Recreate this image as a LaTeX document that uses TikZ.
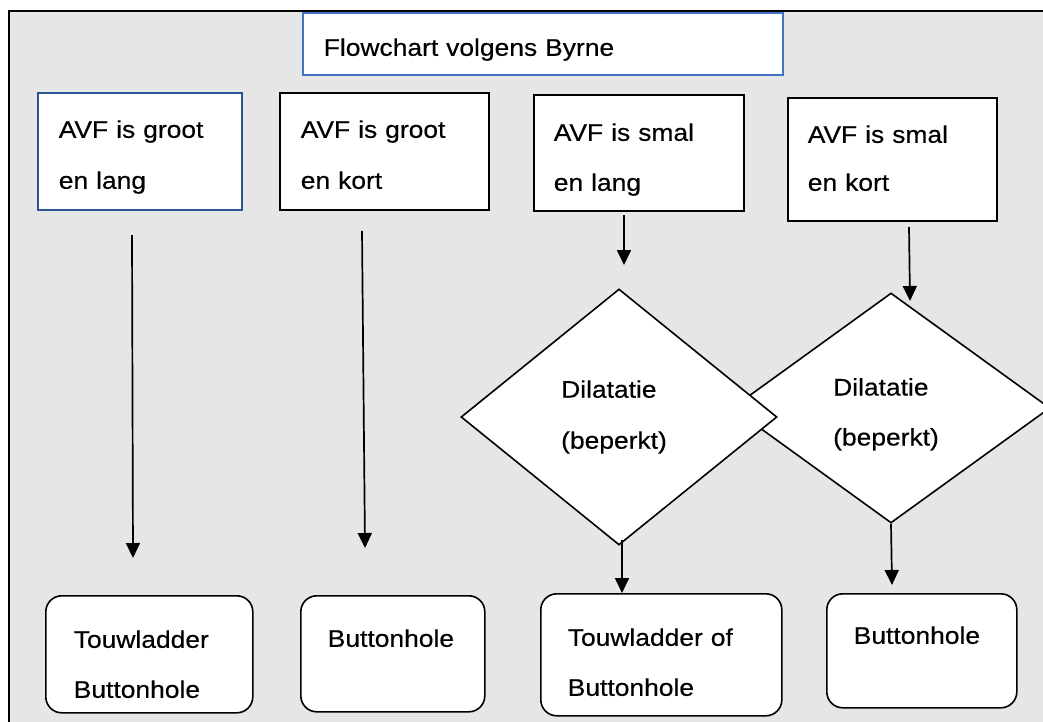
\documentclass[tikz,border=0pt]{standalone}
\usepackage{fontspec}
\setmainfont{Liberation Sans}[FakeStretch=1.1,FakeBold=0.4]
\usetikzlibrary{shapes.geometric,arrows.meta}
\definecolor{bggray}{HTML}{E6E6E6}
\definecolor{navy}{HTML}{2F5496}
\definecolor{tblue}{HTML}{4472C4}
\newcommand\sr[1]{\rule{0pt}{#1pt}}
\newcommand\sd[1]{\rule[-#1pt]{0pt}{0pt}}
\tikzset{
  box/.style={rectangle, draw=black, fill=white, line width=1.6pt, anchor=north west,
    inner ysep=0pt, align=left},
  rbox/.style={box, rounded corners=16pt},
  dia/.style={diamond, draw=black, fill=white, line width=1.6pt, inner sep=0pt, align=left},
  arr/.style={line width=1.7pt, -{Triangle[width=14pt,length=15pt]}},
}
\begin{document}
\begin{tikzpicture}[x=1pt,y=-1pt,font=\fontsize{24}{50}\selectfont]
\useasboundingbox (0,0) rectangle (1043,722);
\clip (0,0) rectangle (1043,722);
\fill[white] (0,0) rectangle (1043,722);
\draw[line width=1.8pt, fill=bggray] (9,11) rectangle (1070,750);

% title
\node[box, draw=tblue, inner xsep=21pt, text width=438pt] (title) at (302,12)
  {\sr{43}Flowchart volgens Byrne\sd{19}};

% top boxes
\node[box, draw=navy, inner xsep=21pt, text width=162pt] (t1) at (37,92)
  {\sr{45}AVF is groot\\[1pt]en lang\sd{21}};
\node[box, inner xsep=21pt, text width=167pt] (t2) at (279,92)
  {\sr{45}AVF is groot\\[1pt]en kort\sd{21}};
\node[box, inner xsep=20pt, text width=170pt] (t3) at (533,94)
  {\sr{46}AVF is smal\\en lang\sd{20}};
\node[box, inner xsep=20pt, text width=169pt] (t4) at (787,97)
  {\sr{45}AVF is smal\\[-2pt]en kort\sd{30}};

% diamonds (second first, first on top)
\node[dia, minimum width=318pt, minimum height=230pt] (d2) at (891,408)
  {\sr{30}Dilatatie\\(beperkt)\rule{10pt}{0pt}};
\node[dia, minimum width=316pt, minimum height=256pt] (d1) at (619,417)
  {Dilatatie\\[1pt](beperkt)\rule{10pt}{0pt}};

% bottom boxes
\node[rbox, inner xsep=28pt, text width=151pt] (b1) at (45,595)
  {\sr{52}Touwladder\\Buttonhole\sd{15}};
\node[rbox, inner xsep=27pt, text width=130pt] (b2) at (300,595)
  {\sr{51}Buttonhole\sd{65}};
\node[rbox, inner xsep=27pt, text width=187pt] (b3) at (540,593)
  {\sr{52}Touwladder of\\Buttonhole\sd{20}};
\node[rbox, inner xsep=27pt, text width=136pt] (b4) at (826,593)
  {\sr{50}Buttonhole\sd{64}};

% arrow ends
\coordinate (a1s) at (132,235); \coordinate (a1e) at (133,558);
\coordinate (a2s) at (362,231); \coordinate (a2e) at (365,548);
\coordinate (a3s) at (624,215); \coordinate (a3e) at (624,265);
\coordinate (a4s) at (909,227); \coordinate (a4e) at (910,301);
\coordinate (a5s) at (622,540);
\coordinate (a6e) at (892,585);

\draw[arr] (a1s) -- (a1e);
\draw[arr] (a2s) -- (a2e);
\draw[arr] (a3s) -- (a3e);
\draw[arr] (a4s) -- (a4e);
\draw[arr] (a5s) -- (a5s |- b3.north);
\draw[arr] (d2.south) -- (a6e);
\end{tikzpicture}
\end{document}
